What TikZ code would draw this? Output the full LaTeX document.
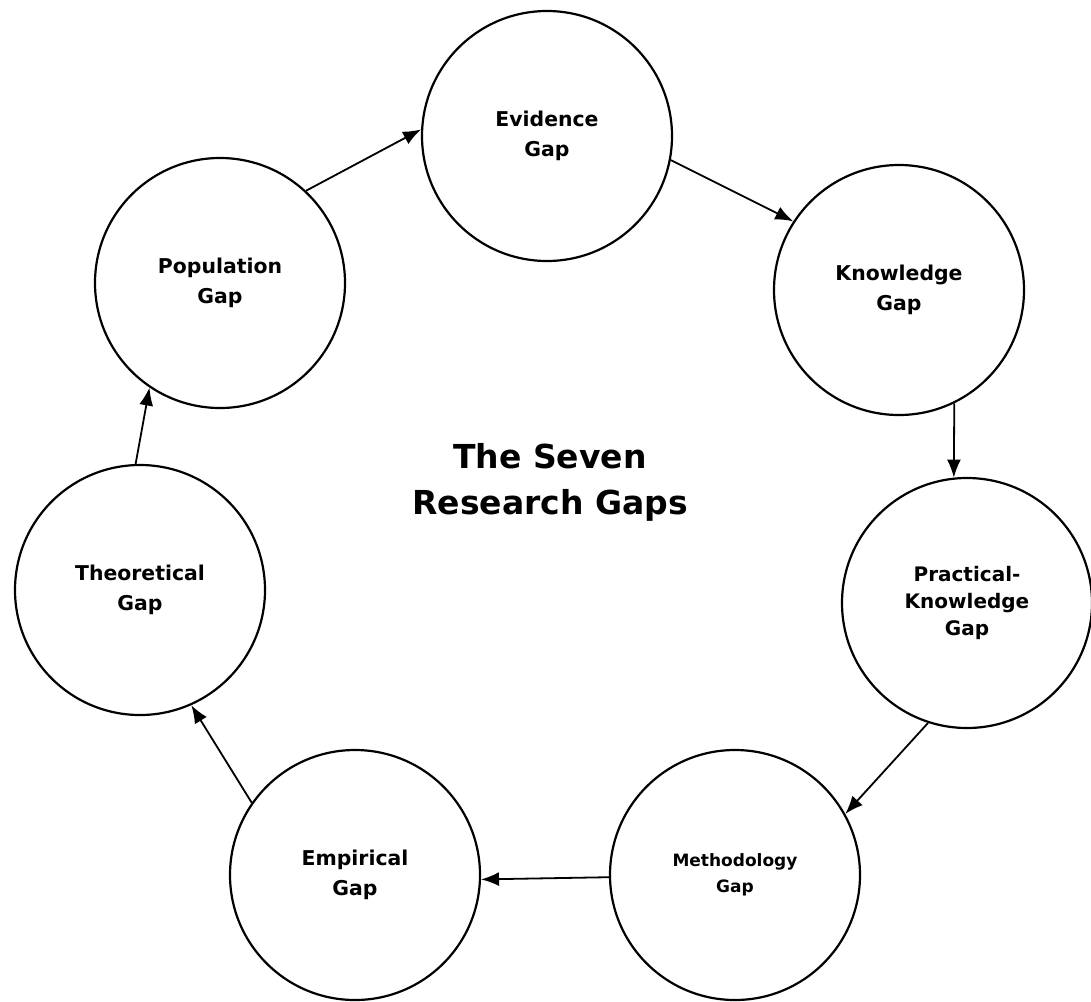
\documentclass[tikz,border=0pt]{standalone}
\usepackage{fontspec}
\setmainfont{DejaVu Sans}
\usetikzlibrary{arrows.meta}

\begin{document}
\begin{tikzpicture}[x=0.5pt,y=-0.5pt,
    gapnode/.style={circle,draw,line width=1.1pt,minimum size=125pt,inner sep=0pt,
      align=center,font=\bfseries\fontsize{10.2}{15}\selectfont},
    flow/.style={draw,line width=0.9pt,-{Latex[length=9pt,width=7pt]}}]

  \useasboundingbox (0,0) rectangle (1091,1001);

  \node[gapnode] (evidence)    at (547,136) {Evidence\\Gap};
  \node[gapnode] (knowledge)   at (899,290) {Knowledge\\Gap};
  \node[gapnode,font=\bfseries\fontsize{10}{13.5}\selectfont] (practical) at (967,603)
    {Practical-\\Knowledge\\Gap};
  \node[gapnode,font=\bfseries\fontsize{8.5}{13}\selectfont] (methodology) at (735,875)
    {Methodology\\Gap};
  \node[gapnode] (empirical)   at (355,875) {Empirical\\Gap};
  \node[gapnode] (theoretical) at (140,590) {Theoretical\\Gap};
  \node[gapnode] (population)  at (220,283) {Population\\Gap};

  \node[font=\bfseries\fontsize{16.5}{23}\selectfont,align=center] (title) at (550,482)
    {The Seven\\Research Gaps};

  % cycle of gaps
  \path[flow] (population.47)   -- (evidence.177);
  \path[flow] (evidence.-11)    -- (knowledge.147);
  \path[flow] (knowledge.-64)   -- (practical.96);
  \path[flow] (practical.-108)  -- (methodology.29);
  \path[flow] (methodology.181) -- (empirical.-2);
  \path[flow] (empirical.145)   -- (theoretical.-66);
  \path[flow] (theoretical.92)  -- (population.-124);

\end{tikzpicture}
\end{document}
